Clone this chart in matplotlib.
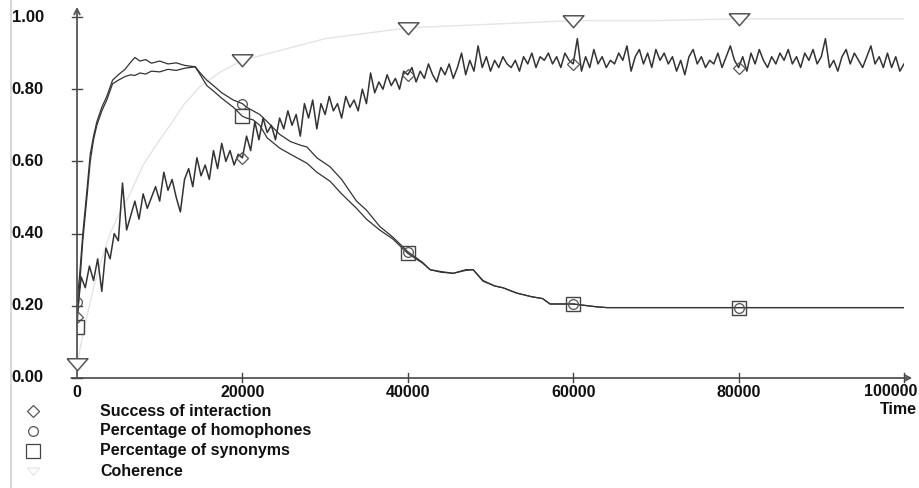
import matplotlib
matplotlib.use("Agg")
import matplotlib.pyplot as plt
from matplotlib.lines import Line2D
import numpy as np

# ---------------- data ----------------
succ_t = list(range(0, 100001, 500))
succ_v = [0.17, 0.28, 0.25, 0.31, 0.27, 0.33, 0.24, 0.36, 0.33, 0.40,
          0.38, 0.54, 0.41, 0.45, 0.49, 0.44, 0.51, 0.47, 0.50, 0.53,
          0.49, 0.57, 0.52, 0.55, 0.50, 0.46, 0.55, 0.58, 0.53, 0.61,
          0.56, 0.59, 0.55, 0.63, 0.58, 0.65, 0.60, 0.63, 0.59, 0.62,
          0.61, 0.67, 0.63, 0.71, 0.66, 0.72, 0.68, 0.70, 0.66, 0.72,
          0.69, 0.74, 0.70, 0.73, 0.67, 0.76, 0.72, 0.77, 0.69, 0.76,
          0.73, 0.78, 0.74, 0.76, 0.72, 0.78, 0.75, 0.77, 0.74, 0.80,
          0.76, 0.845, 0.79, 0.82, 0.80, 0.84, 0.81, 0.83, 0.80, 0.85,
          0.84, 0.86, 0.82, 0.85, 0.83, 0.87, 0.84, 0.82, 0.86, 0.84,
          0.87, 0.83, 0.86, 0.90, 0.84, 0.88, 0.85, 0.92, 0.86, 0.89,
          0.85, 0.88, 0.86, 0.89, 0.87, 0.86, 0.88, 0.85, 0.89, 0.87,
          0.90, 0.86, 0.89, 0.88, 0.90, 0.87, 0.89, 0.86, 0.90, 0.88,
          0.87, 0.94, 0.85, 0.89, 0.86, 0.91, 0.87, 0.89, 0.86, 0.88,
          0.87, 0.90, 0.88, 0.92, 0.85, 0.89, 0.91, 0.87, 0.90, 0.86,
          0.91, 0.88, 0.90, 0.87, 0.89, 0.85, 0.88, 0.84, 0.89, 0.91,
          0.87, 0.89, 0.86, 0.88, 0.87, 0.90, 0.86, 0.89, 0.92, 0.88,
          0.86, 0.89, 0.85, 0.90, 0.87, 0.91, 0.88, 0.86, 0.89, 0.87,
          0.90, 0.88, 0.91, 0.87, 0.89, 0.86, 0.90, 0.88, 0.91, 0.87,
          0.89, 0.94, 0.86, 0.88, 0.85, 0.89, 0.91, 0.87, 0.90, 0.88,
          0.86, 0.89, 0.92, 0.87, 0.89, 0.86, 0.90, 0.86, 0.89, 0.85,
          0.87]

hs_t = [0, 300, 700, 1200, 1600, 2000, 2400, 3000, 3600, 4300, 5000, 5800,
        6500, 7000, 7600, 8300, 9000, 10000, 11000, 12000, 13000, 14300,
        14900, 15700, 16500, 17500, 18900, 20000, 20500, 21300, 22100, 23000,
        24500, 25800, 27000, 27800, 29000, 30600, 32000, 33800, 35000, 36600,
        38200, 40000, 41800, 42700, 44000, 45500, 47000, 47900, 49100, 50500,
        51500, 53200, 55000, 56300, 57200, 60000, 62900, 64100, 70000, 80000,
        90000, 100000]
homo_v = [0.21, 0.28, 0.40, 0.52, 0.62, 0.67, 0.71, 0.75, 0.78, 0.825, 0.84, 0.855,
          0.875, 0.888, 0.878, 0.882, 0.872, 0.878, 0.870, 0.873, 0.866, 0.862,
          0.845, 0.825, 0.81, 0.79, 0.77, 0.76, 0.75, 0.74, 0.73, 0.71,
          0.675, 0.655, 0.645, 0.64, 0.61, 0.585, 0.55, 0.49, 0.465, 0.42,
          0.39, 0.35, 0.32, 0.30, 0.295, 0.29, 0.30, 0.30, 0.27, 0.255,
          0.25, 0.235, 0.225, 0.22, 0.205, 0.205, 0.197, 0.195, 0.195, 0.195,
          0.195, 0.195]
syn_v = [0.14, 0.25, 0.38, 0.50, 0.60, 0.66, 0.70, 0.74, 0.77, 0.815, 0.825, 0.835,
         0.84, 0.838, 0.845, 0.842, 0.85, 0.848, 0.855, 0.852, 0.858, 0.862,
         0.84, 0.81, 0.795, 0.775, 0.75, 0.725, 0.72, 0.715, 0.70, 0.665,
         0.637, 0.62, 0.605, 0.595, 0.57, 0.545, 0.51, 0.47, 0.44, 0.41,
         0.385, 0.345, 0.318, 0.30, 0.293, 0.29, 0.298, 0.30, 0.268, 0.255,
         0.25, 0.235, 0.225, 0.22, 0.205, 0.205, 0.197, 0.195, 0.195, 0.195,
         0.195, 0.195]

coh_t = [0, 1000, 2000, 3000, 4000, 5000, 6400, 8000, 10000, 11250, 13000,
         15000, 17500, 20000, 25000, 30000, 35000, 40000, 50000, 60000, 70000,
         80000, 90000, 100000]
coh_v = [0.04, 0.15, 0.25, 0.33, 0.40, 0.45, 0.51, 0.59, 0.66, 0.70, 0.76,
         0.81, 0.85, 0.88, 0.91, 0.94, 0.955, 0.97, 0.98, 0.99, 0.99,
         0.995, 0.995, 0.995]

marker_times = [0, 20000, 40000, 60000, 80000]
y_ticks = [0.0, 0.2, 0.4, 0.6, 0.8, 1.0]
y_tick_labels = ["0.00", "0.20", "0.40", "0.60", "0.80", "1.00"]
x_ticks = [0, 20000, 40000, 60000, 80000, 100000]
x_tick_labels = ["0", "20000", "40000", "60000", "80000", "100000"]
legend_labels = ["Success of interaction", "Percentage of homophones",
                 "Percentage of synonyms", "Coherence"]

# ---------------- style ----------------
W, H = 920, 488
FONT = dict(family=["Liberation Sans", "DejaVu Sans"], weight="bold")
FS = 11.5
LINE = "#333333"
COH = "#e4e4e4"
TXT = "#111111"
TRI = [(-1.0, 0.55), (1.0, 0.55), (0.0, -0.6), (-1.0, 0.55)]

fig = plt.figure(figsize=(W / 100, H / 100), dpi=100)
ax = fig.add_axes([77 / W, (H - 378) / H, 827 / W, 361 / H])
ax.set_xlim(0, 100000)
ax.set_ylim(0, 1)
ax.axis("off")

def idx(ts):
    return [ts.index(m) for m in marker_times if m in ts]

ax.plot(coh_t, coh_v, color=COH, lw=1.0, zorder=2)
ax.plot(coh_t, coh_v, ls="none", marker=TRI, ms=15, mfc="white", mec="#555555",
        mew=1.1, markevery=idx(coh_t), zorder=5, clip_on=False)

ax.plot(succ_t, succ_v, color=LINE, lw=1.1, zorder=3)
ax.plot(succ_t, succ_v, ls="none", marker="D", ms=6, mfc="none", mec="#555555",
        mew=0.9, markevery=idx(succ_t), zorder=5)

ax.plot(hs_t, syn_v, color=LINE, lw=0.9, zorder=3)
ax.plot(hs_t, homo_v, color=LINE, lw=0.9, zorder=3)
ax.plot(hs_t, syn_v, ls="none", marker="s", ms=10, mfc="none", mec="#444444",
        mew=1.0, markevery=idx(hs_t), zorder=5)
ax.plot(hs_t, homo_v, ls="none", marker="o", ms=7, mfc="none", mec="#555555",
        mew=0.9, markevery=idx(hs_t), zorder=5)

# axes lines with arrows
ax.annotate("", xy=(0, 1.028), xytext=(0, 0), xycoords="data",
            arrowprops=dict(arrowstyle="->", color="#555555", lw=1.3,
                            shrinkA=0, shrinkB=0), annotation_clip=False)
ax.annotate("", xy=(101000, 0), xytext=(-700, 0), xycoords="data",
            arrowprops=dict(arrowstyle="->", color="#555555", lw=1.3,
                            shrinkA=0, shrinkB=0), annotation_clip=False)

tr_y = ax.get_yaxis_transform()
for yv, lab in zip(y_ticks, y_tick_labels):
    ax.plot([-0.006, 0.006], [yv, yv], color="#444444", lw=1.0,
            transform=tr_y, clip_on=False, zorder=4)
    ax.text(-0.079, yv, lab, transform=tr_y, ha="left", va="center",
            fontsize=12, color=TXT, **FONT)

tr_x = ax.get_xaxis_transform()
for xv, lab in zip(x_ticks, x_tick_labels):
    if xv > 0:
        ax.plot([xv, xv], [-0.012, 0.014], color="#444444", lw=1.0,
                transform=tr_x, clip_on=False, zorder=4)
    if xv == x_ticks[-1]:
        fig.text(917 / W, 1 - 392 / H, lab, ha="right", va="center",
                 fontsize=FS, color=TXT, **FONT)
    else:
        ax.text(xv, -0.04, lab, transform=tr_x, ha="center", va="center",
                fontsize=FS, color=TXT, **FONT)

fig.text(917 / W, 1 - 410 / H, "Time", ha="right", va="center",
         fontsize=FS, color=TXT, **FONT)

# legend
leg_markers = [("D", 6, "#555555", "none"), ("o", 7, "#555555", "none"),
               ("s", 10, "#444444", "none"), (TRI, 9, "#e6e6e6", "none")]
for i, (lab, (mk, ms, mec, mfc)) in enumerate(zip(legend_labels, leg_markers)):
    yy = 1 - (411 + 20 * i) / H
    fig.add_artist(Line2D([33 / W], [yy], marker=mk, ms=ms, mec=mec, mfc=mfc,
                          mew=0.9, ls="none", transform=fig.transFigure))
    fig.text(100 / W, yy, lab, ha="left", va="center", fontsize=FS,
             color=TXT, **FONT)

# left border line
fig.add_artist(Line2D([11 / W, 11 / W], [0, 1], color="#cfcfcf", lw=1.2,
                      transform=fig.transFigure))

fig.savefig("out.png", dpi=100, facecolor="white")
